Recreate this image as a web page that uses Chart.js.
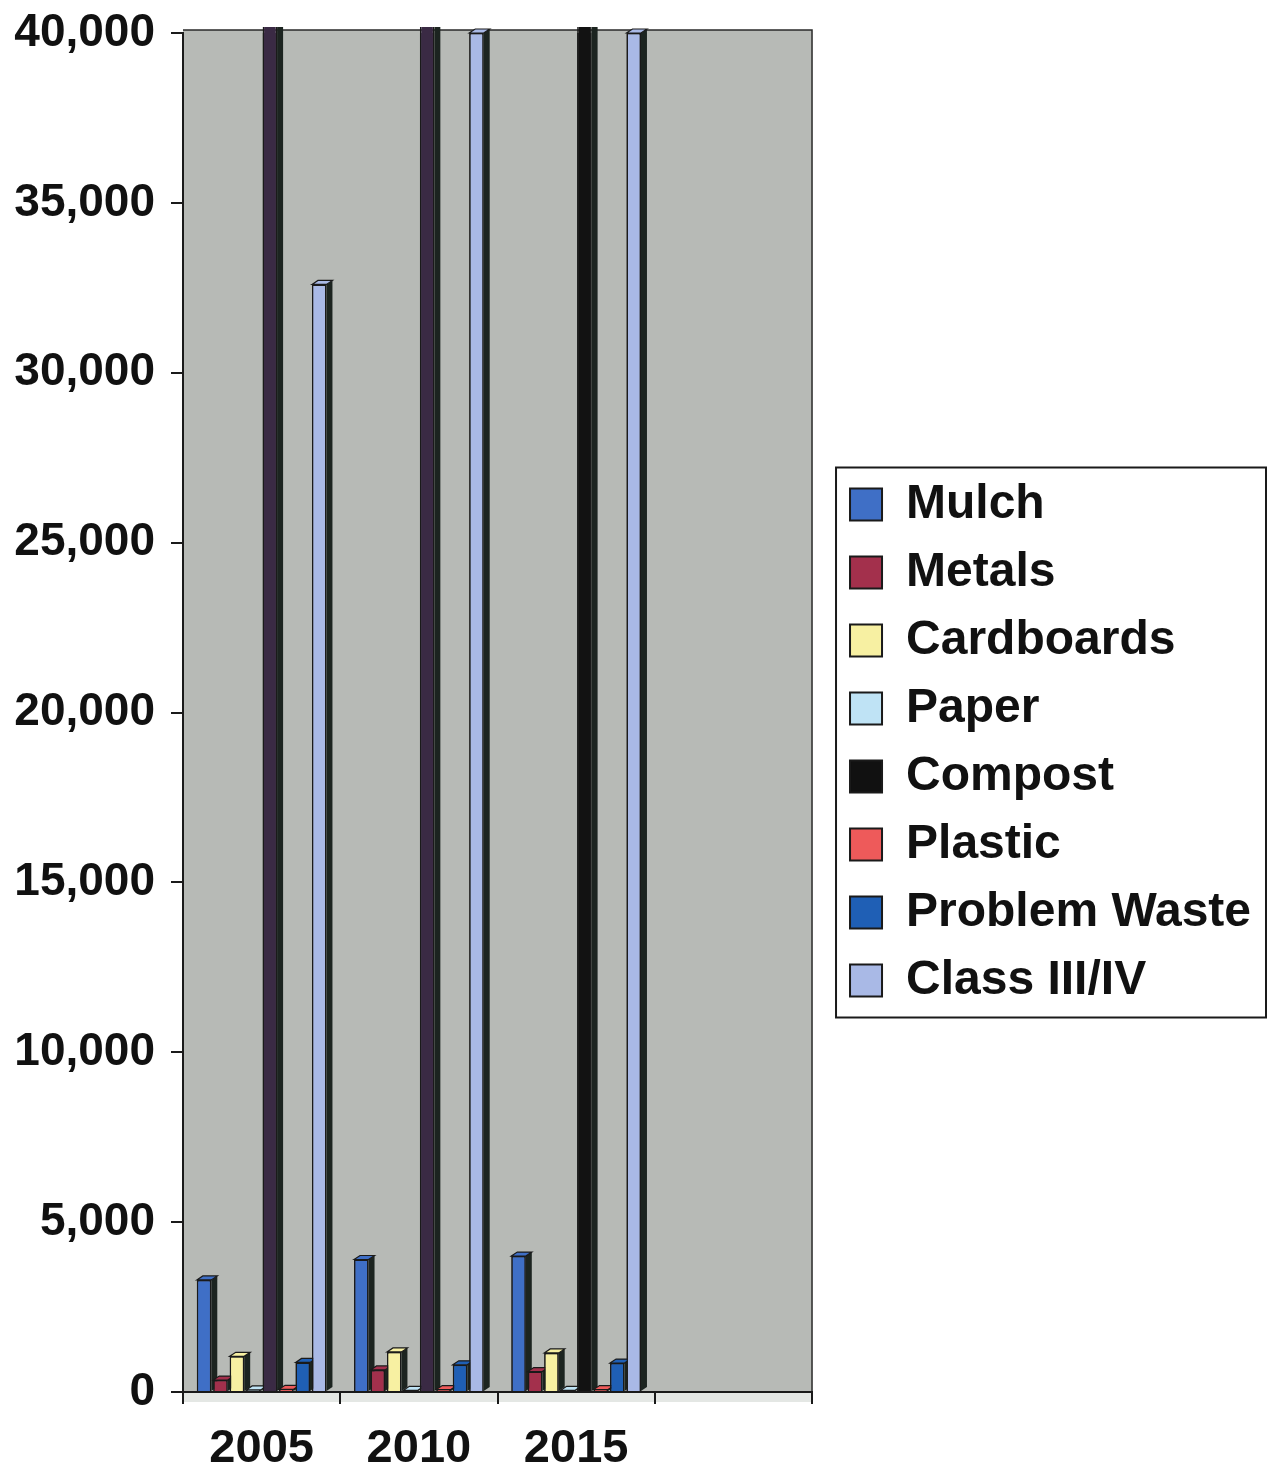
<!DOCTYPE html>
<html>
<head>
<meta charset="utf-8">
<script src="https://cdn.jsdelivr.net/npm/chart.js@4.4.1/dist/chart.umd.min.js"></script>
<style>
  html, body { margin: 0; padding: 0; background: #ffffff; }
  #wrap { width: 1274px; height: 1470px; position: relative; }
  canvas { display: block; }
</style>
</head>
<body>
<div id="wrap"><canvas id="chart" width="1274" height="1470"></canvas></div>
<script>
// Tonnage by material, by year
const years = ['2005', '2010', '2015', ''];
const seriesNames = ['Mulch', 'Metals', 'Cardboards', 'Paper', 'Compost', 'Plastic', 'Problem Waste', 'Class III/IV'];
const mulch = [3300, 3900, 4000];
const metals = [350, 650, 600];
const cardboards = [1050, 1180, 1150];
const paper = [60, 50, 50];
const compost = [46000, 46000, 46000];
const plastic = [80, 70, 70];
const problemWaste = [870, 800, 850];
const classIIIIV = [32600, 40000, 40000];
const yMin = 0;
const yMax = 40000;
const yStep = 5000;

const FONT = "'Liberation Sans', Arial, Helvetica, sans-serif";
Chart.defaults.font.family = FONT;
Chart.defaults.color = '#111111';

const seriesValues = [mulch, metals, cardboards, paper, compost, plastic, problemWaste, classIIIIV];
const seriesColors = [
  '#3f6fc6',
  '#a3304c',
  '#f7f0a2',
  '#bfe3f5',
  ['#3a2a44', '#3a2a44', '#121212'],
  '#ee5a5a',
  '#1f5fb5',
  '#a9b9e6'
];
const legendColors = ['#3f6fc6', '#a3304c', '#f7f0a2', '#bfe3f5', '#111111', '#ee5a5a', '#1f5fb5', '#a9b9e6'];

const datasets = seriesNames.map((name, i) => ({
  label: name,
  data: seriesValues[i],
  backgroundColor: seriesColors[i],
  borderColor: '#1a1a1a',
  borderWidth: 1.5,
  legendColor: legendColors[i]
}));

// Gray plot wall, light floor strip and the top/right frame lines
const plotWall = {
  id: 'plotWall',
  beforeDraw(chart) {
    const { ctx, chartArea: a } = chart;
    ctx.save();
    ctx.fillStyle = '#b7bab6';
    ctx.fillRect(a.left, a.top - 3, a.right - a.left, a.bottom - a.top + 3);
    ctx.fillStyle = '#e4e7e4';
    ctx.fillRect(a.left, a.bottom, a.right - a.left, 10);
    ctx.strokeStyle = '#2a2a2a';
    ctx.lineWidth = 1.5;
    ctx.beginPath();
    ctx.moveTo(a.left, a.top - 3);
    ctx.lineTo(a.right, a.top - 3);
    ctx.lineTo(a.right, a.bottom + 8);
    ctx.stroke();
    ctx.restore();
  }
};

// Columns redrawn left to right with a shaded side and top face for depth
const columnDepth = {
  id: 'columnDepth',
  afterDatasetsDraw(chart) {
    const { ctx, chartArea: a } = chart;
    const dx = 6, dy = 4;
    ctx.save();
    ctx.beginPath();
    ctx.rect(a.left, a.top - 6, a.right - a.left, a.bottom - a.top + 6);
    ctx.clip();
    chart.data.datasets.forEach((ds, di) => {
      const meta = chart.getDatasetMeta(di);
      meta.data.forEach((el, idx) => {
        const v = ds.data[idx];
        if (v === undefined || v === null) return;
        const p = el.getProps(['x', 'y', 'base', 'width'], true);
        const l = p.x - p.width / 2, r = p.x + p.width / 2;
        el.draw(ctx, a);
        // side face
        ctx.fillStyle = '#1c2420';
        ctx.beginPath();
        ctx.moveTo(r, p.y);
        ctx.lineTo(r + dx, p.y - dy);
        ctx.lineTo(r + dx, p.base - dy);
        ctx.lineTo(r, p.base);
        ctx.closePath();
        ctx.fill();
        // top face
        ctx.fillStyle = el.options.backgroundColor;
        ctx.strokeStyle = '#1a1a1a';
        ctx.lineWidth = 1.2;
        ctx.beginPath();
        ctx.moveTo(l, p.y);
        ctx.lineTo(l + dx, p.y - dy);
        ctx.lineTo(r + dx, p.y - dy);
        ctx.lineTo(r, p.y);
        ctx.closePath();
        ctx.fill();
        ctx.stroke();
      });
    });
    ctx.restore();
  }
};

// Frame around the legend
const legendFrame = {
  id: 'legendFrame',
  afterDraw(chart) {
    const lg = chart.legend;
    if (!lg || !lg.legendHitBoxes || !lg.legendHitBoxes.length) return;
    const hb = lg.legendHitBoxes;
    const first = hb[0], last = hb[hb.length - 1];
    const x0 = first.left - 14;
    const x1 = lg.right + 5;
    const y0 = first.top - 13;
    const y1 = last.top + last.height + 13;
    const ctx = chart.ctx;
    ctx.save();
    ctx.strokeStyle = '#1a1a1a';
    ctx.lineWidth = 2;
    ctx.strokeRect(x0, y0, x1 - x0, y1 - y0);
    ctx.restore();
  }
};

new Chart(document.getElementById('chart'), {
  type: 'bar',
  data: { labels: years, datasets },
  plugins: [plotWall, columnDepth, legendFrame],
  options: {
    responsive: false,
    animation: false,
    events: [],
    layout: { padding: { top: 15, right: 13, bottom: 0, left: 0 } },
    datasets: {
      bar: { categoryPercentage: 0.837, barPercentage: 0.88 }
    },
    scales: {
      x: {
        grid: {
          offset: true,
          drawOnChartArea: false,
          drawTicks: true,
          tickLength: 12,
          color: '#1a1a1a',
          lineWidth: 2
        },
        border: { display: true, color: '#1a1a1a', width: 2 },
        ticks: {
          font: { size: 47, weight: 'bold' },
          color: '#111111',
          padding: 17,
          maxRotation: 0
        },
        afterFit(scale) { scale.height = 78; }
      },
      y: {
        min: yMin,
        max: yMax,
        ticks: {
          stepSize: yStep,
          font: { size: 46, weight: 'bold' },
          color: '#111111',
          padding: 16
        },
        grid: {
          drawOnChartArea: false,
          drawTicks: true,
          tickLength: 12,
          color: '#1a1a1a',
          lineWidth: 2
        },
        border: { display: true, color: '#1a1a1a', width: 2 },
        afterFit(scale) {
          scale.width = 183;
          scale.paddingTop = 33;
          scale.paddingBottom = 0;
        }
      },
      gap: {
        position: 'right',
        display: true,
        grid: { display: false },
        ticks: { display: false },
        border: { display: false },
        afterFit(scale) { scale.width = 18; }
      }
    },
    plugins: {
      tooltip: { enabled: false },
      legend: {
        position: 'right',
        align: 'center',
        maxWidth: 520,
        labels: {
          font: { size: 48, weight: 'bold' },
          color: '#111111',
          boxWidth: 32,
          boxHeight: 32,
          padding: 20,
          generateLabels(chart) {
            const items = Chart.defaults.plugins.legend.labels.generateLabels(chart);
            items.forEach(it => {
              const ds = chart.data.datasets[it.datasetIndex];
              it.fillStyle = ds.legendColor;
              it.strokeStyle = '#1a1a1a';
              it.lineWidth = 2;
            });
            return items;
          }
        }
      }
    }
  }
});
</script>
</body>
</html>
